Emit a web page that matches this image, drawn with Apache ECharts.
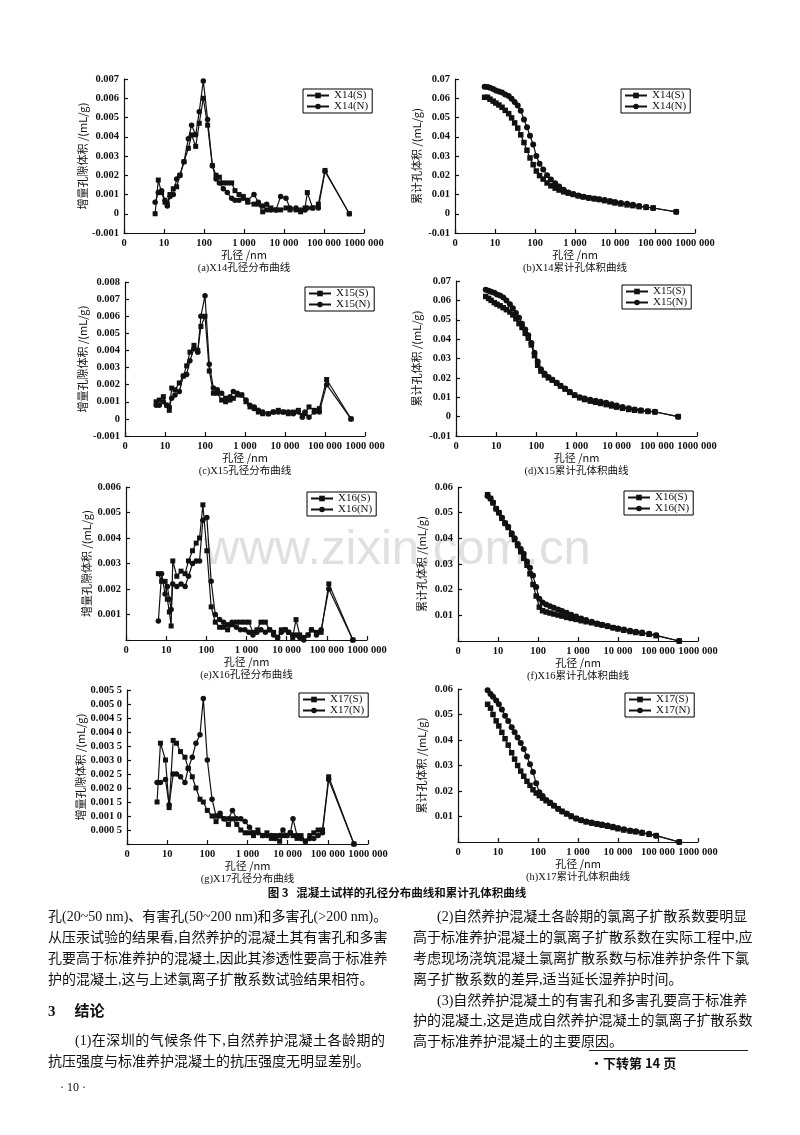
<!DOCTYPE html>
<html><head><meta charset="utf-8">
<script src="https://cdn.jsdelivr.net/npm/echarts@6/dist/echarts.min.js"></script>
<style>
html,body{margin:0;padding:0;background:#fff;width:800px;height:1135px;overflow:hidden;}
#chart{position:absolute;left:0;top:0;width:800px;height:1135px;}
.t{position:absolute;font-family:"Liberation Serif","Noto Sans CJK SC",serif;font-size:14px;line-height:20px;height:20px;color:#111;white-space:nowrap;}
.j{text-align:justify;text-align-last:justify;}
</style></head><body>
<div id="chart"></div>
<div class="t j" style="left:48px;top:907px;width:337px;">孔(20~50 nm)、有害孔(50~200 nm)和多害孔(&gt;200 nm)。</div>
<div class="t j" style="left:48px;top:928px;width:337px;">从压汞试验的结果看,自然养护的混凝土其有害孔和多害</div>
<div class="t j" style="left:48px;top:949px;width:337px;">孔要高于标准养护的混凝土,因此其渗透性要高于标准养</div>
<div class="t" style="left:48px;top:970px;width:337px;">护的混凝土,这与上述氯离子扩散系数试验结果相符。</div>
<div class="t" style="left:48px;top:1001px;font-size:15px;font-weight:bold;">3<span style="display:inline-block;width:19px"></span>结论</div>
<div class="t j" style="left:75px;top:1031px;width:310px;">(1)在深圳的气候条件下,自然养护混凝土各龄期的</div>
<div class="t" style="left:48px;top:1052px;width:337px;">抗压强度与标准养护混凝土的抗压强度无明显差别。</div>
<div class="t" style="left:60px;top:1077px;font-size:12px;">· 10 ·</div>

<div class="t j" style="left:437px;top:907px;width:310px;">(2)自然养护混凝土各龄期的氯离子扩散系数要明显</div>
<div class="t j" style="left:413px;top:928px;width:334px;">高于标准养护混凝土的氯离子扩散系数在实际工程中,应</div>
<div class="t j" style="left:413px;top:949px;width:334px;">考虑现场浇筑混凝土氯离扩散系数与标准养护条件下氯</div>
<div class="t" style="left:413px;top:970px;width:334px;">离子扩散系数的差异,适当延长湿养护时间。</div>
<div class="t j" style="left:437px;top:991px;width:310px;">(3)自然养护混凝土的有害孔和多害孔要高于标准养</div>
<div class="t j" style="left:413px;top:1011px;width:334px;">护的混凝土,这是造成自然养护混凝土的氯离子扩散系数</div>
<div class="t" style="left:413px;top:1032px;width:334px;">高于标准养护混凝土的主要原因。</div>
<div style="position:absolute;left:589px;top:1050px;width:159px;height:1px;background:#222;"></div>
<div class="t" style="left:590px;top:1053px;font-family:'Noto Sans CJK SC',sans-serif;font-size:13px;font-weight:bold;">·下转第 14 页</div>

<script>
// ---------- tick labels ----------
const xTickValues = [1, 10, 100, 1000, 10000, 100000, 1000000];
const xTickText   = ['0', '10', '100', '1 000', '10 000', '100 000', '1000 000'];
const psdYName = '增量孔隙体积 /(mL/g)';
const cumYName = '累计孔体积 /(mL/g)';
const xName = '孔径 /nm';

// ---------- pore size distribution (incremental) ----------
const x14PsdD = [6, 7.2, 8.7, 10.6, 12.1, 14.1, 17.1, 20.7, 25, 31.6, 40.6, 49, 62, 76, 96, 123, 162, 200, 242, 304, 383, 492, 596, 750, 962, 1235, 1778, 2282, 2929, 3686, 4732, 6310, 8254, 11220, 14125, 19953, 26100, 33500, 38300, 52100, 72200, 106000, 430000];
const x14PsdS = [0, 0.00175, 0.0011, 0.0006, 0.0005, 0.001, 0.0013, 0.0014, 0.002, 0.0027, 0.0034, 0.0041, 0.0035, 0.0047, 0.006, 0.0046, 0.0025, 0.002, 0.0019, 0.0016, 0.0016, 0.0016, 0.0012, 0.001, 0.0009, 0.0006, 0.0005, 0.0005, 0.0001, 0.0002, 0.0003, 0.0002, 0.0002, 0.0003, 0.0002, 0.0002, 0.0001, 0.0003, 0.0011, 0.0003, 0.0005, 0.00225, 0];
const x14PsdN = [0.0006, 0.0011, 0.0012, 0.0007, 0.0004, 0.0009, 0.001, 0.0018, 0.002, 0.0027, 0.0039, 0.0046, 0.0041, 0.0053, 0.0069, 0.0049, 0.0025, 0.0018, 0.0016, 0.0013, 0.0011, 0.0008, 0.0007, 0.0007, 0.0008, 0.0007, 0.001, 0.0006, 0.0004, 0.0005, 0.0002, 0.0002, 0.0009, 0.0008, 0.0003, 0.0003, 0.0002, 0.0002, 0.0003, 0.0003, 0.0003, 0.0022, 0];

const x15PsdD = [6, 7.2, 9.1, 11, 12.8, 14.7, 17.8, 22.8, 28.7, 34.8, 42, 53, 66, 79, 100, 128, 162, 203, 261, 329, 422, 511, 643, 826, 1059, 1334, 1711, 2154, 2766, 3831, 5106, 6813, 9085, 12115, 16155, 21544, 27125, 31623, 39811, 54117, 72164, 110000, 446684];
const x15PsdS = [0.001, 0.0011, 0.0013, 0.0008, 0.0005, 0.0018, 0.0017, 0.0021, 0.0025, 0.0031, 0.0039, 0.0043, 0.004, 0.0054, 0.006, 0.0028, 0.0015, 0.0015, 0.0011, 0.001, 0.0011, 0.0012, 0.0014, 0.0014, 0.001, 0.0007, 0.0006, 0.0004, 0.0003, 0.0003, 0.0004, 0.0005, 0.0004, 0.0003, 0.0004, 0.0005, 0.0002, 0.0003, 0.0007, 0.0005, 0.0006, 0.0023, 0];
const x15PsdN = [0.0008, 0.0008, 0.001, 0.0008, 0.0007, 0.0012, 0.0014, 0.0016, 0.0025, 0.0026, 0.0034, 0.0041, 0.0039, 0.006, 0.0072, 0.0032, 0.0018, 0.0017, 0.0015, 0.0012, 0.0013, 0.0016, 0.0015, 0.0014, 0.0011, 0.0008, 0.0007, 0.0005, 0.0004, 0.0003, 0.0004, 0.0004, 0.0004, 0.0004, 0.0003, 0.0004, 0.0001, 0.0004, 0.0001, 0.0004, 0.0004, 0.002, 0];

const x16PsdD = [6.4, 7.7, 9.4, 10.7, 12, 13.3, 14.6, 18.4, 23.5, 29.6, 36, 45.3, 55.9, 67.8, 82, 103, 132, 167, 214, 269, 339, 436, 562, 708, 912, 1148, 1445, 1820, 2291, 2951, 3758, 4732, 5957, 7362, 9268, 11220, 14125, 17100, 21135, 26600, 34100, 41400, 55200, 72100, 112000, 446000];
const x16PsdS = [0.0026, 0.0023, 0.0023, 0.0016, 0.0011, 0.00055, 0.0031, 0.0025, 0.0027, 0.0026, 0.0031, 0.0035, 0.0038, 0.004, 0.0053, 0.0035, 0.0013, 0.0007, 0.0005, 0.0005, 0.0004, 0.0006, 0.0007, 0.0007, 0.0007, 0.0007, 0.0003, 0.0004, 0.0007, 0.0007, 0.0004, 0.0003, 0.0001, 0.0004, 0.0004, 0.0003, 0.0001, 0.0008, 0.0002, 0.0001, 0.0002, 0.0004, 0.0003, 0.0003, 0.0022, 0];
const x16PsdN = [0.00075, 0.0026, 0.0018, 0.0021, 0.0016, 0.0012, 0.0022, 0.0021, 0.0022, 0.0021, 0.0025, 0.003, 0.0031, 0.0031, 0.0047, 0.0048, 0.0023, 0.001, 0.0008, 0.0007, 0.0006, 0.0007, 0.0005, 0.0004, 0.0004, 0.0003, 0.0002, 0.0003, 0.0004, 0.0003, 0.0004, 0.0002, 0.0001, 0.0003, 0.0004, 0.0003, 0.0002, 0.0002, 0.0001, 0, 0.0002, 0.0004, 0.0002, 0.0004, 0.002, 0];

const x17PsdD = [5.6, 6.8, 9.1, 11.2, 14.1, 17.1, 21.5, 27.7, 33.5, 42.2, 52, 65.6, 79.4, 100, 131, 165, 207, 261, 335, 422, 541, 681, 874, 1122, 1413, 1811, 2371, 3041, 3908, 4920, 6310, 7638, 9616, 11660, 13590, 17100, 21540, 27670, 35480, 44670, 57280, 73620, 105000, 446700];
const x17PsdS = [0.0015, 0.0036, 0.003, 0.0013, 0.0037, 0.0036, 0.0033, 0.0031, 0.0027, 0.0024, 0.002, 0.0016, 0.0015, 0.0012, 0.001, 0.0008, 0.001, 0.0009, 0.0007, 0.0009, 0.0007, 0.0005, 0.0004, 0.0004, 0.0003, 0.0005, 0.0003, 0.0004, 0.0002, 0.0003, 0.0001, 0.0003, 0.0003, 0.0004, 0.0003, 0.0002, 0.0003, 0.0001, 0.0003, 0.0004, 0.0005, 0.0005, 0.0024, 0];
const x17PsdN = [0.0022, 0.0022, 0.0023, 0.0014, 0.0025, 0.0025, 0.0024, 0.0022, 0.0027, 0.0031, 0.0036, 0.0039, 0.0052, 0.003, 0.0016, 0.001, 0.0011, 0.0009, 0.0009, 0.0012, 0.0009, 0.0009, 0.0008, 0.0006, 0.0004, 0.0004, 0.0003, 0.0003, 0.0003, 0.0002, 0.0003, 0.0005, 0.0003, 0.0004, 0.0009, 0.0003, 0.0002, 0.0001, 0.0002, 0.0002, 0.0003, 0.0004, 0.0023, 0];

// ---------- cumulative pore volume ----------
const cumD = [5.5, 6.5, 7.5, 9, 10.5, 12.5, 15, 18, 22, 26, 31, 37, 44, 53, 63, 75, 90, 108, 130, 160, 200, 250, 320, 400, 520, 680, 900, 1200, 1600, 2200, 3000, 4000, 5500, 7500, 10000, 14000, 20000, 28000, 40000, 60000, 90000, 340000];
const x14CumS = [0.0605, 0.0605, 0.0595, 0.0585, 0.0575, 0.0565, 0.0553, 0.0537, 0.052, 0.0498, 0.0472, 0.0445, 0.041, 0.037, 0.033, 0.029, 0.0255, 0.0222, 0.0198, 0.018, 0.016, 0.0145, 0.0133, 0.0123, 0.0114, 0.0107, 0.01, 0.0093, 0.0088, 0.0083, 0.0079, 0.0074, 0.0068, 0.0062, 0.0056, 0.0051, 0.0046, 0.0042, 0.0037, 0.0033, 0.003, 0.001];
const x14CumN = [0.066, 0.0658, 0.0655, 0.0648, 0.064, 0.0635, 0.063, 0.062, 0.0612, 0.0598, 0.058, 0.0562, 0.0535, 0.049, 0.045, 0.0405, 0.036, 0.03, 0.026, 0.023, 0.02, 0.0178, 0.0158, 0.0142, 0.0125, 0.011, 0.0102, 0.0095, 0.0088, 0.0082, 0.0078, 0.0075, 0.0071, 0.0066, 0.0061, 0.0056, 0.0052, 0.0047, 0.004, 0.0035, 0.003, 0.001];
const x15CumS = [0.062, 0.061, 0.06, 0.0588, 0.058, 0.0572, 0.0562, 0.0552, 0.054, 0.0525, 0.0505, 0.048, 0.046, 0.043, 0.0405, 0.037, 0.0315, 0.0265, 0.0235, 0.0215, 0.02, 0.0188, 0.0173, 0.0158, 0.0142, 0.0125, 0.011, 0.0097, 0.0088, 0.008, 0.0074, 0.0068, 0.0062, 0.0055, 0.0049, 0.0043, 0.0037, 0.0033, 0.003, 0.0027, 0.0024, 0];
const x15CumN = [0.0655, 0.065, 0.0645, 0.064, 0.063, 0.0625, 0.0615, 0.06, 0.058, 0.056, 0.0535, 0.051, 0.048, 0.045, 0.042, 0.038, 0.033, 0.0285, 0.0245, 0.0222, 0.0205, 0.019, 0.0175, 0.016, 0.0145, 0.0128, 0.0112, 0.01, 0.0093, 0.0087, 0.0082, 0.0077, 0.0071, 0.0064, 0.0057, 0.005, 0.0043, 0.0037, 0.0033, 0.0028, 0.0025, 0];
const x16CumS = [0.057, 0.0555, 0.0538, 0.0515, 0.05, 0.0478, 0.0458, 0.0442, 0.0415, 0.0395, 0.0372, 0.0348, 0.0322, 0.0295, 0.0262, 0.022, 0.0175, 0.0132, 0.0118, 0.0113, 0.0109, 0.0105, 0.0101, 0.0097, 0.0092, 0.0088, 0.0084, 0.0079, 0.0075, 0.0071, 0.0066, 0.0062, 0.0057, 0.0052, 0.0047, 0.0042, 0.0037, 0.0033, 0.003, 0.0026, 0.0021, 0];
const x16CumN = [0.0565, 0.0555, 0.054, 0.0515, 0.05, 0.048, 0.046, 0.0445, 0.042, 0.04, 0.0378, 0.0358, 0.034, 0.031, 0.0285, 0.0255, 0.021, 0.0165, 0.015, 0.0142, 0.0135, 0.013, 0.0123, 0.0117, 0.011, 0.0102, 0.0095, 0.0088, 0.0082, 0.0075, 0.0068, 0.0063, 0.0058, 0.0052, 0.0049, 0.0045, 0.004, 0.0036, 0.0033, 0.0028, 0.0022, 0];
const x17CumS = [0.054, 0.0525, 0.05, 0.0475, 0.0455, 0.043, 0.0405, 0.038, 0.035, 0.0325, 0.03, 0.0278, 0.0258, 0.0238, 0.0222, 0.0205, 0.0192, 0.0182, 0.0172, 0.0162, 0.0152, 0.0142, 0.013, 0.012, 0.011, 0.01, 0.0092, 0.0085, 0.0079, 0.0074, 0.007, 0.0066, 0.0062, 0.0057, 0.0052, 0.0047, 0.0043, 0.004, 0.0035, 0.003, 0.0025, 0];
const x17CumN = [0.0595, 0.058, 0.057, 0.0555, 0.054, 0.052, 0.0495, 0.0475, 0.045, 0.043, 0.041, 0.0388, 0.0365, 0.0335, 0.0305, 0.0275, 0.023, 0.0195, 0.018, 0.0165, 0.0155, 0.0143, 0.013, 0.012, 0.0112, 0.0102, 0.0092, 0.0085, 0.008, 0.0076, 0.0072, 0.0069, 0.0065, 0.006, 0.0055, 0.005, 0.0045, 0.0042, 0.0037, 0.0032, 0.0025, 0];

// ---------- label formatters ----------
const isZero = v => Math.abs(v) < 1e-12;
const fmts = {
  f3: v => isZero(v) ? '0' : v.toFixed(3),
  f2: v => isZero(v) ? '0' : v.toFixed(2),
  f3h: v => isZero(v) ? '' : v.toFixed(3),
  f2h: v => isZero(v) ? '' : v.toFixed(2),
  f4s: v => { if (isZero(v)) return ''; const s = v.toFixed(4); return s.slice(0, 5) + ' ' + s.slice(5); }
};
const fmtX = v => { const i = xTickValues.findIndex(t => Math.abs(t - v) / t < 1e-6); return i < 0 ? '' : xTickText[i]; };

// ---------- panels (layout + which arrays) ----------
const panels = [
  {id:'X14', kind:'psd', xs:x14PsdD, s:x14PsdS, n:x14PsdN, yName:psdYName, cap:'(a)X14孔径分布曲线', yMin:-0.001, yMax:0.007, step:0.001, fmt:'f3', box:[124,79,240,154], leg:[303,89], gap:35},
  {id:'X14', kind:'cum', xs:cumD, s:x14CumS, n:x14CumN, yName:cumYName, cap:'(b)X14累计孔体积曲线', yMin:-0.01, yMax:0.07, step:0.01, fmt:'f2', box:[455,79,240,154], leg:[621,89], gap:33},
  {id:'X15', kind:'psd', xs:x15PsdD, s:x15PsdS, n:x15PsdN, yName:psdYName, cap:'(c)X15孔径分布曲线', yMin:-0.001, yMax:0.008, step:0.001, fmt:'f3', box:[125,282,240,154], leg:[305,287], gap:37},
  {id:'X15', kind:'cum', xs:cumD, s:x15CumS, n:x15CumN, yName:cumYName, cap:'(d)X15累计孔体积曲线', yMin:-0.01, yMax:0.07, step:0.01, fmt:'f2', box:[456,281,241,155], leg:[622,285], gap:34},
  {id:'X16', kind:'psd', xs:x16PsdD, s:x16PsdS, n:x16PsdN, yName:psdYName, cap:'(e)X16孔径分布曲线', yMin:0, yMax:0.006, step:0.001, fmt:'f3h', box:[126,487,241,153], leg:[307,492], gap:34},
  {id:'X16', kind:'cum', xs:cumD, s:x16CumS, n:x16CumN, yName:cumYName, cap:'(f)X16累计孔体积曲线', yMin:0, yMax:0.06, step:0.01, fmt:'f2h', box:[458,487,240,154], leg:[624,491], gap:31},
  {id:'X17', kind:'psd', xs:x17PsdD, s:x17PsdS, n:x17PsdN, yName:psdYName, cap:'(g)X17孔径分布曲线', yMin:0, yMax:0.0055, step:0.0005, fmt:'f4s', box:[127,690,241,154], leg:[299,693], gap:41},
  {id:'X17', kind:'cum', xs:cumD, s:x17CumS, n:x17CumN, yName:cumYName, cap:'(h)X17累计孔体积曲线', yMin:0, yMax:0.06, step:0.01, fmt:'f2h', box:[458,689,240,153], leg:[625,693], gap:31}
];

const serif = '"Liberation Serif","Noto Sans CJK SC",serif';
const cjk = '"Noto Sans CJK SC","Liberation Serif",sans-serif';
const black = '#111';
const pairs = (xs, ys) => xs.map((x, i) => [x, ys[i]]);

const grid = [], xAxis = [], yAxis = [], series = [], legend = [];
const graphic = [{
  type:'text', x:204, y:550, z:-10, silent:true,
  style:{text:'www.zixin.com.cn', fontFamily:'"Liberation Sans",sans-serif', fontSize:49, fill:'#e0e0e0', align:'left', verticalAlign:'middle'}
}];

panels.forEach((p, i) => {
  const [l, t, w, h] = p.box;
  grid.push({left:l, top:t, width:w, height:h, containLabel:false, outerBoundsMode:'none'});
  xAxis.push({
    type:'log', logBase:10, gridIndex:i, min:1, max:1000000, splitNumber:6,
    name:xName, nameLocation:'middle', nameGap:15,
    nameTextStyle:{fontFamily:cjk, fontSize:11, color:black},
    axisLine:{onZero:false, lineStyle:{color:black, width:1.2}},
    axisTick:{show:true, inside:true, length:4, lineStyle:{color:black, width:1.2}},
    minorTick:{show:false},
    axisLabel:{formatter:fmtX, fontFamily:serif, fontSize:10.5, fontWeight:'bold', color:black, margin:5, showMinLabel:true, showMaxLabel:true},
    splitLine:{show:false}
  });
  yAxis.push({
    type:'value', gridIndex:i, min:p.yMin, max:p.yMax, interval:p.step,
    name:p.yName, nameLocation:'middle', nameGap:p.gap, nameRotate:90,
    nameTextStyle:{fontFamily:cjk, fontSize:11, color:black},
    axisLine:{show:true, onZero:false, lineStyle:{color:black, width:1.2}},
    axisTick:{show:true, inside:true, length:4, lineStyle:{color:black, width:1.2}},
    axisLabel:{formatter:fmts[p.fmt], fontFamily:serif, fontSize:10.5, fontWeight:'bold', color:black, margin:5},
    splitLine:{show:false}
  });
  const sName = p.id + '(S)', nName = p.id + '(N)';
  const big = p.kind === 'cum';
  const common = {type:'line', xAxisIndex:i, yAxisIndex:i, showSymbol:true, animation:false, silent:true,
    lineStyle:{color:black, width:1.2}, itemStyle:{color:black}, emphasis:{disabled:true}, clip:false};
  series.push(Object.assign({}, common, {name:sName, data:pairs(p.xs, p.s), symbol:'rect', symbolSize: big ? 5.5 : 5}));
  series.push(Object.assign({}, common, {name:nName, data:pairs(p.xs, p.n), symbol:'circle', symbolSize: big ? 6 : 5.5}));
  legend.push({
    data:[sName, nName], left:p.leg[0], top:p.leg[1], orient:'vertical',
    itemWidth:22, itemHeight:7, itemGap:0, padding:[1,4,1,3],
    borderColor:'#000', borderWidth:1, borderRadius:0, backgroundColor:'#fff',
    textStyle:{fontFamily:serif, fontSize:11, color:black, lineHeight:11}, selectedMode:false
  });
  graphic.push({type:'text', x:l + w / 2, y:t + h + 35, silent:true,
    style:{text:p.cap, fontFamily:serif, fontSize:10.5, fill:black, align:'center', verticalAlign:'middle'}});
});

graphic.push({type:'text', x:397, y:893, silent:true,
  style:{text:'图 3   混凝土试样的孔径分布曲线和累计孔体积曲线', fontFamily:cjk, fontSize:11.5, fontWeight:'bold', fill:black, align:'center', verticalAlign:'middle'}});

const chart = echarts.init(document.getElementById('chart'), null, {renderer:'canvas'});
chart.setOption({
  backgroundColor:'#fff',
  animation:false,
  grid, xAxis, yAxis, series, legend, graphic
});
</script>
</body></html>
